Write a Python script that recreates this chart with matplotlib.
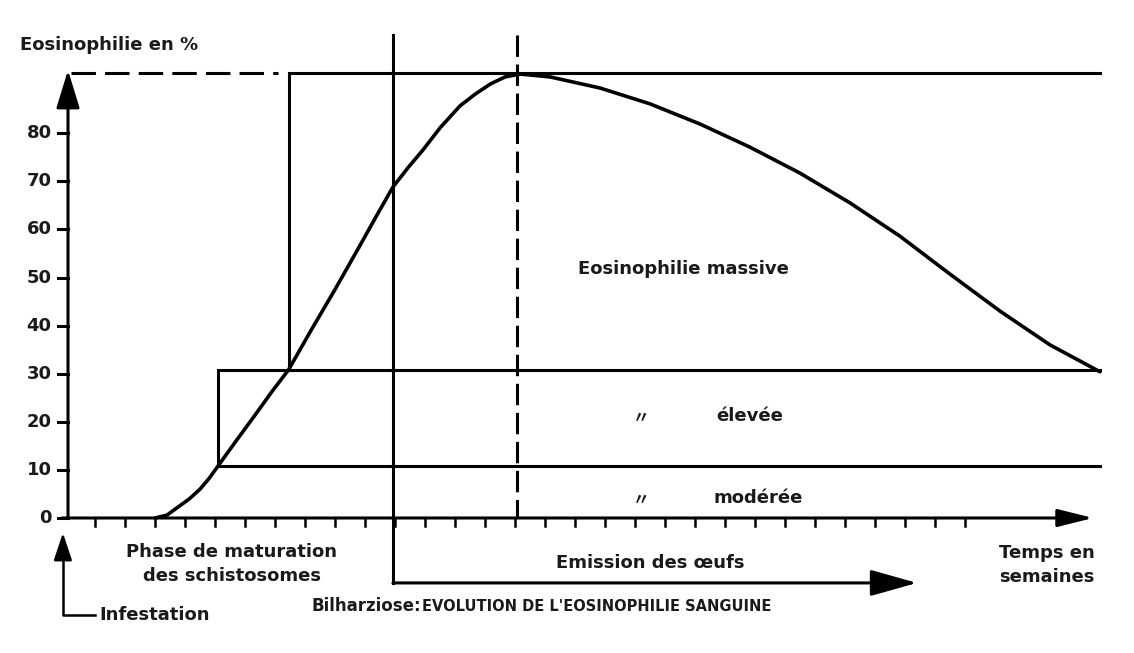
import matplotlib.pyplot as plt

# data (x in weeks/ticks, y in % eosinophilia)
y_ticks = [0, 10, 20, 30, 40, 50, 60, 70, 80]
week_ticks = list(range(1, 31))

curve_x = [3.0, 3.4, 3.75, 4.15, 4.5, 4.8, 5.1, 5.7, 6.3, 6.9, 7.45, 8.2, 9.0,
           9.8, 10.4, 10.93, 11.43, 11.93, 12.5, 13.17, 13.67, 14.17, 14.67,
           15.17, 16.17, 17.83, 19.5, 21.17, 22.83, 24.5, 26.17, 27.83, 29.5,
           31.17, 32.83, 34.5]
curve_y = [0.0, 0.6, 2.2, 4.0, 6.0, 8.2, 10.8, 16.0, 21.1, 26.3, 30.8, 39.0,
           47.5, 56.3, 63.0, 68.8, 72.8, 76.5, 81.1, 85.7, 88.1, 90.2, 91.7,
           92.3, 91.7, 89.4, 86.1, 81.9, 77.1, 71.7, 65.5, 58.6, 50.7, 43.0,
           36.0, 30.4]

lvl_moderate = 10.8
lvl_high = 30.8
lvl_top = 92.5
x_moderate = 5.1
x_high = 7.45
x_eggs = 10.93
x_peak = 15.07
x_end = 34.5

# pixel -> data mapping: 30 px per week, 4.81 px per %
W, H = 1134, 653
x0_px, y0_px = 65, 518
px_x, px_y = 30.0, 4.81

fig = plt.figure(figsize=(W / 100, H / 100), dpi=100)
ax = fig.add_axes([0, 0, 1, 1])
ax.set_xlim(-x0_px / px_x, (W - x0_px) / px_x)
ax.set_ylim((y0_px - H) / px_y, y0_px / px_y)
ax.axis('off')

k = 'black'
lw = 2.2
font = dict(family='DejaVu Sans', fontweight='bold', color='#1a1a1a')

# axes with arrows
ax.annotate('', xy=(34.27, 0), xytext=(-0.1, 0),
            arrowprops=dict(arrowstyle='-|>,head_length=1.2,head_width=0.3',
                            lw=lw, color=k, shrinkA=0, shrinkB=0,
                            mutation_scale=18))
ax.annotate('', xy=(0.1, 93.1), xytext=(0.1, 0),
            arrowprops=dict(arrowstyle='-|>,head_length=1.3,head_width=0.4',
                            lw=lw, color=k, shrinkA=0, shrinkB=0,
                            mutation_scale=18))

for v in y_ticks:
    ax.plot([-0.25, 0.1], [v, v], color=k, lw=lw)
    ax.text(-0.45, v, str(v), ha='right', va='center', fontsize=13, **font)

for w in week_ticks:
    ax.plot([w, w], [0, -1.7], color=k, lw=1.8)

# level lines
ax.plot([0.2, 7.1], [lvl_top, lvl_top], color=k, lw=lw, ls=(0, (8, 3)))
ax.plot([x_high, x_end], [lvl_top, lvl_top], color=k, lw=lw)
ax.plot([x_high, x_high], [lvl_high, lvl_top], color=k, lw=lw)
ax.plot([x_moderate, x_end], [lvl_high, lvl_high], color=k, lw=lw)
ax.plot([x_moderate, x_moderate], [lvl_moderate, lvl_high], color=k, lw=lw)
ax.plot([x_moderate, x_end], [lvl_moderate, lvl_moderate], color=k, lw=lw)

# start of egg emission and peak
ax.plot([x_eggs, x_eggs], [100.4, -13.5], color=k, lw=lw)
ax.annotate('', xy=(28.4, -13.5), xytext=(x_eggs, -13.5),
            arrowprops=dict(arrowstyle='-|>,head_length=1.6,head_width=0.45',
                            lw=lw, color=k, shrinkA=0, shrinkB=0,
                            mutation_scale=18))
ax.plot([x_peak, x_peak], [100.4, 0], color=k, lw=lw, ls=(0, (7, 2.5)))

# infestation arrow
ax.plot([1.0, -0.07, -0.07], [-20.2, -20.2, -6.0], color=k, lw=1.8)
ax.annotate('', xy=(-0.07, -3.1), xytext=(-0.07, -7.0),
            arrowprops=dict(arrowstyle='-|>,head_length=1.2,head_width=0.4',
                            lw=1.8, color=k, shrinkA=0, shrinkB=0,
                            mutation_scale=14))

# curve
ax.plot(curve_x, curve_y, color=k, lw=2.6, solid_capstyle='round',
        solid_joinstyle='round')

# texts
ditto = dict(family=['Noto Sans CJK JP', 'DejaVu Sans'], fontweight='bold',
             color='#1a1a1a')
ax.text(-1.5, 98.4, 'Eosinophilie en %', ha='left', va='center', fontsize=13, **font)
ax.text(20.63, 51.7, 'Eosinophilie massive', ha='center', va='center', fontsize=13, **font)
ax.text(19.2, 20.8, '〃', ha='center', va='center', fontsize=12, **ditto)
ax.text(21.7, 21.3, 'élevée', ha='left', va='center', fontsize=13, **font)
ax.text(19.2, 3.7, '〃', ha='center', va='center', fontsize=12, **ditto)
ax.text(21.6, 4.2, 'modérée', ha='left', va='center', fontsize=13, **font)
ax.text(5.55, -9.6, 'Phase de maturation\ndes schistosomes', ha='center',
        va='center', fontsize=13, linespacing=1.45, **font)
ax.text(1.15, -20.2, 'Infestation', ha='left', va='center', fontsize=13, **font)
ax.text(19.5, -9.4, 'Emission des œufs', ha='center', va='center', fontsize=13, **font)
ax.text(32.73, -9.8, 'Temps en\nsemaines', ha='center', va='center', fontsize=13,
        linespacing=1.45, **font)
ax.text(8.23, -18.2, 'Bilharziose:', ha='left', va='center', fontsize=12, **font)
ax.text(11.9, -18.5, "EVOLUTION DE L'EOSINOPHILIE SANGUINE", ha='left',
        va='center', fontsize=10.5, **font)

fig.savefig('out.png', dpi=100, facecolor='white')
